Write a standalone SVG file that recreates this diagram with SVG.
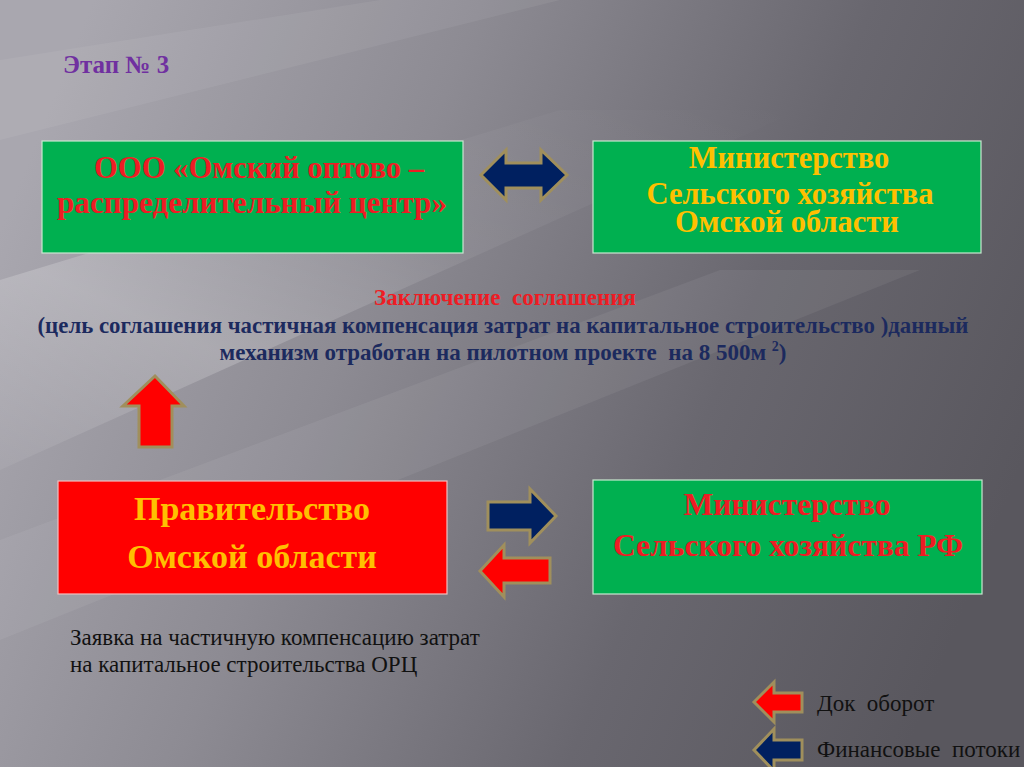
<svg xmlns="http://www.w3.org/2000/svg" width="1024" height="767" viewBox="0 0 1024 767">
  <defs>
    <linearGradient id="bg" x1="0" y1="0.3" x2="1" y2="0.6">
      <stop offset="0" stop-color="#a9a7af"/>
      <stop offset="0.35" stop-color="#8d8b93"/>
      <stop offset="0.7" stop-color="#69676f"/>
      <stop offset="1" stop-color="#59575e"/>
    </linearGradient>
    <linearGradient id="band" x1="0" y1="1" x2="1" y2="0">
      <stop offset="0" stop-color="#ffffff" stop-opacity="0.05"/>
      <stop offset="0.3" stop-color="#ffffff" stop-opacity="0.2"/>
      <stop offset="0.6" stop-color="#ffffff" stop-opacity="0.06"/>
      <stop offset="1" stop-color="#ffffff" stop-opacity="0"/>
    </linearGradient>
    <style>
      .box-g { fill: #00b050; stroke: #c8e8d0; stroke-width: 1.2; }
      .box-r { fill: #ff0000; stroke: #f0c0c0; stroke-width: 1.2; }
      .t { font-family: "Liberation Serif", "Times New Roman", serif; font-weight: bold; text-anchor: middle; }
      .red { fill: #ee1c24; }
      .gold { fill: #ffc000; }
      .navy { fill: #1c2a5e; }
      .arr { stroke: #a08f5c; stroke-width: 3; stroke-linejoin: miter; }
      .an { fill: #002060; }
      .ar { fill: #ff0000; }
      .plain { font-family: "Liberation Serif", "Times New Roman", serif; font-size: 23px; fill: #111111; }
    </style>
  </defs>
  <rect x="0" y="0" width="1024" height="767" fill="url(#bg)"/>
  <polygon points="0,470 0,280 560,110 800,110" fill="url(#band)"/>
  <polygon points="0,640 0,540 720,270 920,270" fill="#ffffff" opacity="0.06"/>
  <polygon points="0,140 0,60 380,0 560,0" fill="#ffffff" opacity="0.06"/>

  <text x="63" y="73" font-family="Liberation Serif, serif" font-weight="bold" font-size="25" fill="#7030a0">Этап № 3</text>

  <g id="node-ooo">
    <rect class="box-g" x="42" y="141" width="421" height="112"/>
    <text class="t red" font-size="32" x="259" y="178" textLength="330" lengthAdjust="spacingAndGlyphs">ООО «Омский оптово –</text>
    <text class="t red" font-size="32" x="252" y="213" textLength="390" lengthAdjust="spacingAndGlyphs">распределительный центр»</text>
  </g>

  <g id="node-min-omsk">
    <rect class="box-g" x="593" y="141" width="388" height="112"/>
    <text class="t gold" font-size="30.5" x="789" y="168">Министерство</text>
    <text class="t gold" font-size="30.5" x="790" y="204">Сельского хозяйства</text>
    <text class="t gold" font-size="30.5" x="787" y="232">Омской области</text>
  </g>

  <g id="node-gov">
    <rect class="box-r" x="58" y="481" width="389" height="113"/>
    <text class="t gold" font-size="34" x="252" y="520">Правительство</text>
    <text class="t gold" font-size="34" x="252" y="568">Омской области</text>
  </g>

  <g id="node-min-rf">
    <rect class="box-g" x="593" y="480" width="389" height="114"/>
    <text class="t red" font-size="31.5" x="787" y="515">Министерство</text>
    <text class="t red" font-size="31.5" x="788" y="556">Сельского хозяйства РФ</text>
  </g>

  <g id="connectors">
    <polygon class="arr an" points="481,175 506,150 506,163 541,163 541,150 567,175 541,200 541,188 506,188 506,200"/>
    <polygon class="arr ar" points="155,376 184,406 172,406 172,447 139,447 139,406 123,406"/>
    <polygon class="arr an" points="488,502 530,502 530,489 556,516 530,543 530,530 488,530"/>
    <polygon class="arr ar" points="480,571 504,545 504,558 550,558 550,583 504,583 504,597"/>
  </g>

  <g id="agreement-text">
    <text class="t red" font-size="23" x="505" y="305" xml:space="preserve">Заключение  соглашения</text>
    <text class="t navy" font-size="23" x="503" y="333" textLength="931" lengthAdjust="spacingAndGlyphs">(цель соглашения частичная компенсация затрат на капитальное строительство )данный</text>
    <text class="t navy" font-size="23" x="503" y="360" xml:space="preserve">механизм отработан на пилотном проекте  на 8 500м <tspan font-size="14" dy="-9">2</tspan><tspan dy="9">)</tspan></text>
  </g>

  <g id="request-text">
    <text class="plain" x="70" y="645">Заявка на частичную компенсацию затрат</text>
    <text class="plain" x="70" y="672">на капитальное строительства ОРЦ</text>
  </g>

  <g id="legend">
    <polygon class="arr ar" points="754,702 774,682 774,693 802,693 802,712 774,712 774,722"/>
    <text class="plain" x="817" y="711" xml:space="preserve">Док  оборот</text>
    <polygon class="arr an" points="754,750 774,729 774,740 802,740 802,760 774,760 774,771"/>
    <text class="plain" x="817" y="757" xml:space="preserve">Финансовые  потоки</text>
  </g>
</svg>
